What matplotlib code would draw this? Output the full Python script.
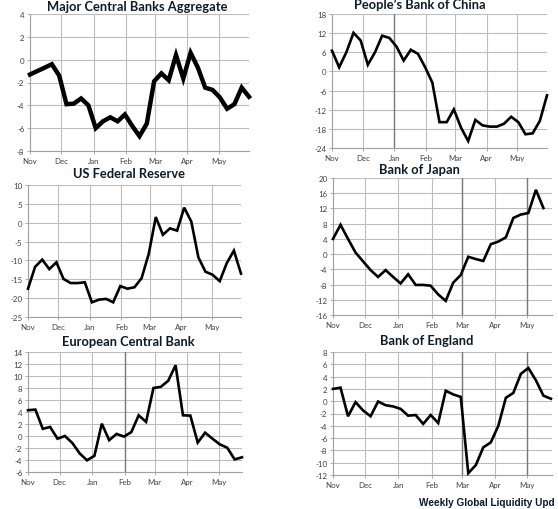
import matplotlib
matplotlib.use("Agg")
import matplotlib.pyplot as plt
import pandas as pd

start = "2010-11-01"

agg_vals = [-1.3, -1.0, -0.7, -0.4, -1.4, -3.9, -3.85, -3.4, -4.0, -6.0, -5.4, -5.05, -5.4, -4.8,
            -5.8, -6.7, -5.6, -1.9, -1.2, -1.8, 0.4, -1.65, 0.6, -0.7, -2.45, -2.65, -3.3, -4.3,
            -3.9, -2.45, -3.25]
pboc_vals = [6.5, 1.3, 6.0, 12.1, 9.7, 2.1, 6.0, 11.2, 10.5, 7.8, 3.4, 6.8, 5.5, 1.3, -3.5,
             -15.9, -15.9, -11.9, -17.6, -21.8, -15.2, -16.9, -17.3, -17.3, -16.4, -14.2,
             -15.9, -19.7, -19.4, -15.5, -7.5]
fed_vals = [-17.5, -11.7, -9.8, -12.3, -10.5, -14.9, -16.0, -16.0, -15.8, -21.1, -20.4, -20.2,
            -21.1, -16.8, -17.5, -17.1, -14.7, -8.3, 1.5, -3.2, -1.5, -2.1, 4.0, 0.3, -9.2,
            -13.0, -13.8, -15.5, -10.7, -7.4, -13.5]
boj_vals = [4.0, 7.7, 4.0, 0.4, -1.9, -4.2, -6.0, -4.2, -6.0, -7.7, -5.3, -8.1, -8.1, -8.3,
            -10.6, -12.3, -7.5, -5.5, -0.7, -1.3, -1.8, 2.6, 3.3, 4.4, 9.5, 10.4, 10.8, 16.9, 12.1]
ecb_vals = [4.3, 4.4, 1.2, 1.5, -0.45, 0.0, -1.15, -2.9, -4.05, -3.3, 2.05, -0.7, 0.35, -0.1,
            0.65, 3.45, 2.35, 8.0, 8.2, 9.2, 11.8, 3.45, 3.4, -1.1, 0.55, -0.45, -1.4, -1.95,
            -3.9, -3.55]
boe_vals = [2.0, 2.2, -2.45, -0.15, -1.5, -2.45, -0.05, -0.65, -0.85, -1.25, -2.35, -2.25,
            -3.7, -2.25, -3.55, 1.7, 1.1, 0.7, -11.7, -10.4, -7.5, -6.7, -4.0, 0.55, 1.35, 4.45,
            5.4, 3.4, 0.9, 0.4]

titles = ["Major Central Banks Aggregate", "People\u2019s Bank of China", "US Federal Reserve",
          "Bank of Japan", "European Central Bank", "Bank of England"]
month_labels = ["Nov", "Dec", "Jan", "Feb", "Mar", "Apr", "May"]
month_starts = ["2010-11-01", "2010-12-01", "2011-01-01", "2011-02-01", "2011-03-01",
                "2011-04-01", "2011-05-01"]
footer = "Weekly Global Liquidity Upd"

yticks = [
    [4, 2, 0, -2, -4, -6, -8],
    [18, 12, 6, 0, -6, -12, -18, -24],
    [10, 5, 0, -5, -10, -15, -20, -25],
    [20, 16, 12, 8, 4, 0, -4, -8, -12, -16],
    [14, 12, 10, 8, 6, 4, 2, 0, -2, -4, -6],
    [8, 6, 4, 2, 0, -2, -4, -6, -8, -10, -12],
]
event_lines = [[], ["2011-01-01"], [], ["2011-03-01", "2011-05-01"], ["2011-02-01"],
               ["2011-03-01", "2011-05-01"]]
xends = ["2011-05-30", "2011-05-30", "2011-05-30", "2011-05-24", "2011-05-23", "2011-05-24"]
series = [agg_vals, pboc_vals, fed_vals, boj_vals, ecb_vals, boe_vals]
lws = [3.2, 1.9, 1.9, 1.9, 1.9, 1.9]

W, H = 558, 510
# pixel boxes: left, right, top, bottom
boxes = [(30, 249, 15, 152), (332, 547, 15, 149), (28, 241, 186, 318),
         (333, 552, 179, 316), (28, 242, 353, 473), (333, 552, 353, 476)]
title_x = [137, 420, 129, 419, 128, 427]
title_y = [7, 5, 174, 170, 342, 341]

fig = plt.figure(figsize=(W / 100, H / 100), dpi=100)
fig.patch.set_facecolor("white")

for i in range(6):
    l, r, t, b = boxes[i]
    ax = fig.add_axes([l / W, 1 - b / H, (r - l) / W, (b - t) / H])
    vals = series[i]
    dates = pd.date_range(start, periods=len(vals), freq="7D")
    ax.plot(dates, vals, color="black", lw=lws[i], solid_joinstyle="miter", zorder=3,
            clip_on=False)
    ax.set_xlim(pd.Timestamp(start), pd.Timestamp(xends[i]))
    ax.set_ylim(min(yticks[i]), max(yticks[i]))
    ax.set_yticks(yticks[i])
    ax.set_yticklabels([str(v) for v in yticks[i]])
    ms = [pd.Timestamp(m) for m in month_starts]
    ax.set_xticks(ms)
    ax.set_xticklabels(month_labels)
    ax.grid(True, color="#bdbdbd", lw=0.8)
    ax.set_axisbelow(True)
    for ev in event_lines[i]:
        ax.axvline(pd.Timestamp(ev), color="#7a7a7a", lw=1.0, zorder=2)
    for s in ["top", "right"]:
        ax.spines[s].set_visible(False)
    for s in ["left", "bottom"]:
        ax.spines[s].set_color("#a0a0a0")
        ax.spines[s].set_linewidth(0.8)
    ax.tick_params(axis="both", labelsize=5.7, colors="#404040", length=2.5, width=0.6,
                   pad=1.5)
    ax.tick_params(axis="both", color="#a0a0a0")
    for lab in ax.get_xticklabels() + ax.get_yticklabels():
        lab.set_family("Lato")
    fig.text(title_x[i] / W, 1 - title_y[i] / H, titles[i], ha="center", va="center",
             fontsize=9.3, fontweight="bold", family="Lato", color="#0d1b2a")

fig.text(419 / W, 1 - 503 / H, footer, ha="left", va="center",
         fontsize=7.2, fontweight="bold", family="Liberation Sans", color="#0d1b2a")

fig.savefig("out.png", dpi=100)
